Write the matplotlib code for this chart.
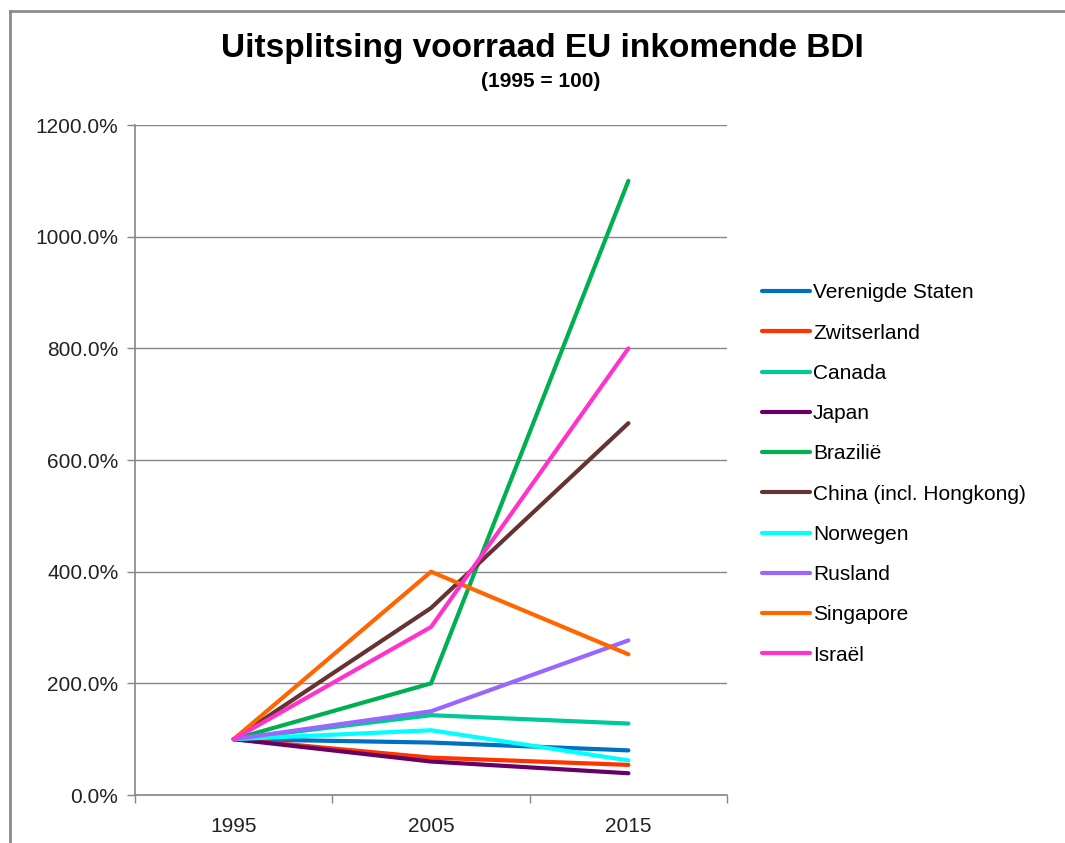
import matplotlib
matplotlib.use("Agg")
import matplotlib.pyplot as plt
from matplotlib.lines import Line2D
from matplotlib.ticker import FuncFormatter, FixedLocator

plt.rcParams['font.family'] = ['Liberation Sans', 'DejaVu Sans']

# Data (index, 1995 = 100, shown as percent)
years = ["1995", "2005", "2015"]
verenigde_staten = [100, 94, 80]
zwitserland = [100, 67, 54]
canada = [100, 143, 128]
japan = [100, 60, 39]
brazilie = [100, 200, 1100]
china = [100, 335, 666]
norwegen = [100, 116, 62]
rusland = [100, 150, 277]
singapore = [100, 400, 252]
israel = [100, 301, 800]

series = [
    ("Verenigde Staten", verenigde_staten, "#0070C0"),
    ("Zwitserland", zwitserland, "#FF3300"),
    ("Canada", canada, "#00C896"),
    ("Japan", japan, "#660066"),
    ("Brazilië", brazilie, "#00B050"),
    ("China (incl. Hongkong)", china, "#663333"),
    ("Norwegen", norwegen, "#00FFFF"),
    ("Rusland", rusland, "#9966FF"),
    ("Singapore", singapore, "#FF6600"),
    ("Israël", israel, "#FF33CC"),
]

fig = plt.figure(figsize=(10.65, 8.43), dpi=100)
ax = fig.add_axes([0.1268, 0.0569, 0.5559, 0.7948])

x = list(range(len(years)))
for name, vals, col in series:
    ax.plot(x, vals, color=col, lw=3.0, label=name, solid_capstyle="round")

grid_col = "#868686"
ax.set_ylim(0, 1200)
ax.set_yticks(range(0, 1201, 200))
ax.yaxis.set_major_formatter(FuncFormatter(lambda v, p: f"{v:.1f}%"))
ax.yaxis.grid(True, color=grid_col, lw=1.0)
ax.set_axisbelow(True)

ax.set_xlim(-0.5, 2.5)
ax.set_xticks(x)
ax.set_xticklabels(years)
ax.xaxis.set_minor_locator(FixedLocator([-0.5, 0.5, 1.5, 2.5]))
ax.tick_params(axis="x", which="major", length=0, pad=16, labelsize=15, colors="#222222")
ax.tick_params(axis="x", which="minor", length=6, width=1, color=grid_col)
ax.tick_params(axis="y", length=6, width=1, color=grid_col, pad=6, labelsize=15, labelcolor="#222222")

for s in ["top", "right"]:
    ax.spines[s].set_visible(False)
for s in ["left", "bottom"]:
    ax.spines[s].set_color(grid_col)
    ax.spines[s].set_linewidth(1.2)

fig.text(0.509, 0.943, "Uitsplitsing voorraad EU inkomende BDI", ha="center", va="center",
         fontsize=24, fontweight="bold")
fig.text(0.508, 0.903, "(1995 = 100)", ha="center", va="center", fontsize=15, fontweight="bold")

ax.legend(loc="center left", bbox_to_anchor=(0.7155, 0.4377), bbox_transform=fig.transFigure,
          frameon=False, fontsize=15, handlelength=2.3, handletextpad=0.15,
          labelspacing=1.02, borderpad=0, borderaxespad=0)

# chart area border (left and top edges visible)
fig.add_artist(Line2D([0.0094, 0.0094], [0.0, 0.9875], transform=fig.transFigure, color="#8C8C8C", lw=2))
fig.add_artist(Line2D([0.0094, 1.0], [0.9875, 0.9875], transform=fig.transFigure, color="#8C8C8C", lw=2))

fig.savefig("out.png", dpi=100, facecolor="white")
